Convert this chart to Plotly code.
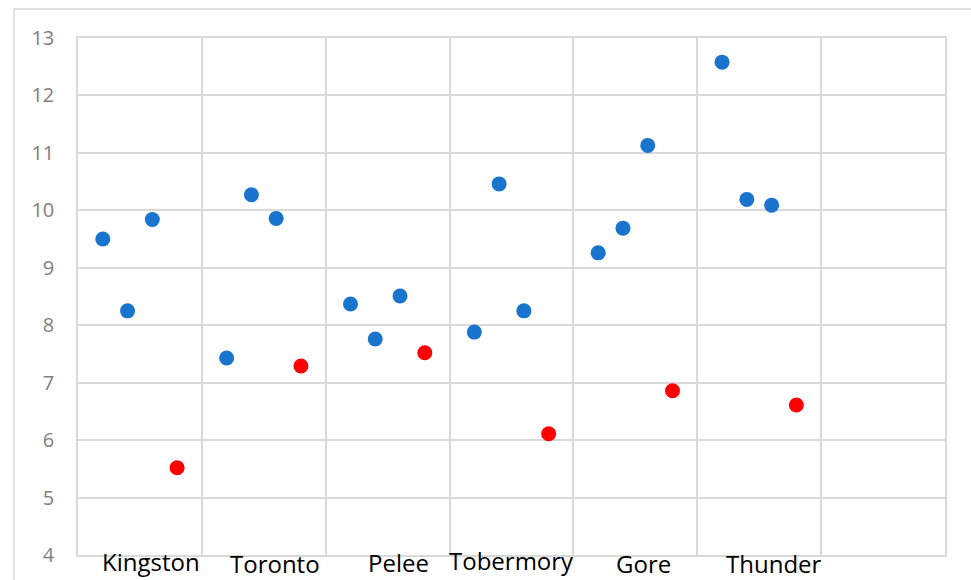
import plotly.graph_objects as go

# Data
sites = ["Kingston", "Toronto", "Pelee", "Tobermory", "Gore", "Thunder"]
blue_x = [1, 2, 3, 6, 7, 8, 11, 12, 13, 16, 17, 18, 21, 22, 23, 26, 27, 28]
blue_y = [9.50, 8.25, 9.84, 7.43, 10.27, 9.86, 8.37, 7.76, 8.51,
          7.88, 10.46, 8.25, 9.26, 9.69, 11.13, 12.58, 10.19, 10.09]
red_x = [4, 9, 14, 19, 24, 29]
red_y = [5.52, 7.29, 7.52, 6.11, 6.86, 6.61]

# label placement (x in data units, vertical offset in px)
label_x = [2.95, 7.95, 12.92, 17.5, 22.83, 28.1]
label_dy = [-6, -8, -7, -5, -8, -8]

fig = go.Figure()
fig.add_trace(go.Scatter(x=blue_x, y=blue_y, mode="markers",
                         marker=dict(size=15, color="#1874CD"), showlegend=False))
fig.add_trace(go.Scatter(x=red_x, y=red_y, mode="markers",
                         marker=dict(size=15, color="#FF0000"), showlegend=False))

for name, lx, dy in zip(sites, label_x, label_dy):
    fig.add_annotation(x=lx, y=0, xref="x", yref="paper", text=name,
                       showarrow=False, yanchor="middle", xanchor="center",
                       yshift=dy, font=dict(family="Open Sans", size=24, color="#000000"))

fig.add_shape(type="rect", xref="paper", yref="paper",
              x0=-0.0738, x1=2, y0=-1, y1=1.056,
              line=dict(color="#d9d9d9", width=1.5), fillcolor="rgba(0,0,0,0)", layer="below")

fig.update_layout(
    width=971, height=580,
    margin=dict(l=78, r=26, t=38, b=25),
    paper_bgcolor="white", plot_bgcolor="white",
    xaxis=dict(range=[0, 35], dtick=5, tick0=0, showticklabels=False,
               showgrid=True, gridcolor="#d9d9d9", gridwidth=1.5,
               zeroline=False, showline=True, linecolor="#d9d9d9", linewidth=1.5,
               mirror=True, ticks=""),
    yaxis=dict(range=[4, 13], dtick=1, tick0=4,
               showgrid=True, gridcolor="#d9d9d9", gridwidth=1.5,
               zeroline=False, showline=True, linecolor="#d9d9d9", linewidth=1.5,
               mirror=True, ticks="", ticklabelstandoff=18,
               tickfont=dict(family="Open Sans", size=20, color="#7f7f7f")),
    font=dict(family="Open Sans"),
)

fig.write_html("out.html", config={"displayModeBar": False},
               post_script="document.body.style.margin='0';")
